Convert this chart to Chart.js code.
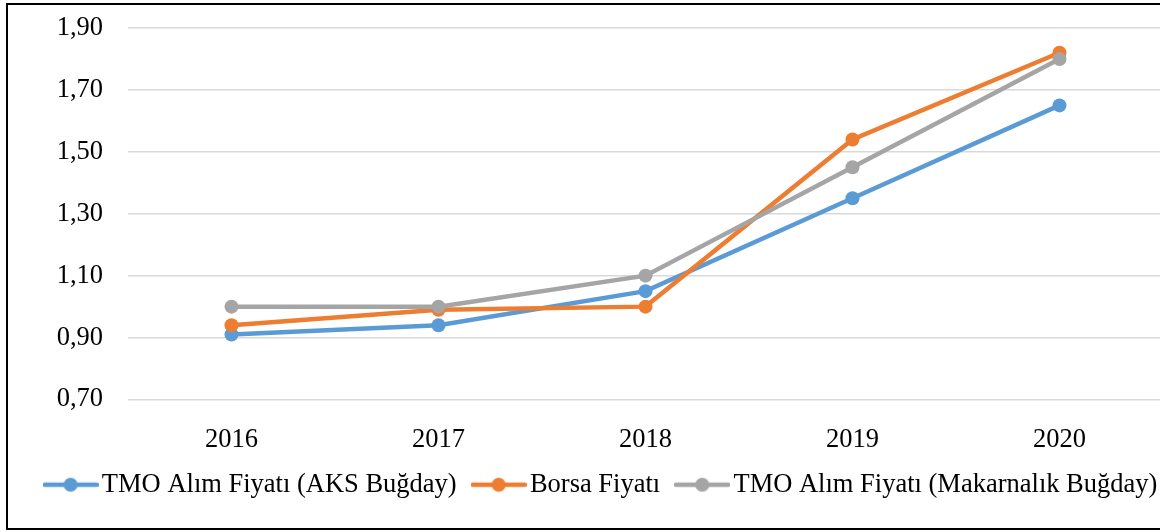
<!DOCTYPE html>
<html>
<head>
<meta charset="utf-8">
<script src="https://cdn.jsdelivr.net/npm/chart.js@4.4.1/dist/chart.umd.min.js"></script>
<style>
  html, body { margin: 0; padding: 0; background: #fff; overflow: hidden; }
  #wrap { position: relative; width: 1210px; height: 532px; }
  #frame {
    position: absolute; left: 6px; top: 3px; width: 1230px; height: 527px;
    border: 2px solid #000; box-sizing: border-box; pointer-events: none;
  }
</style>
</head>
<body>
<div id="wrap">
  <canvas id="myChart" width="1210" height="532"></canvas>
  <div id="frame"></div>
</div>
<script>
const years = ["2016", "2017", "2018", "2019", "2020"];
const aksPrices = [0.91, 0.94, 1.05, 1.35, 1.65];
const borsaPrices = [0.94, 0.99, 1.00, 1.54, 1.82];
const makarnaPrices = [1.00, 1.00, 1.10, 1.45, 1.80];
const seriesNames = [
  "TMO Alım Fiyatı (AKS Buğday)",
  "Borsa Fiyatı",
  "TMO Alım Fiyatı (Makarnalık Buğday)",
];
const yTicks = [0.7, 0.9, 1.1, 1.3, 1.5, 1.7, 1.9];

const colors = ["#5B9BD5", "#ED7D31", "#A5A5A5"];
const FONT = "'Liberation Serif', 'Times New Roman', serif";
const FONT_SIZE = 26.5;

// line + dot marker like the excel legend
function legendMark(color) {
  const c = document.createElement("canvas");
  c.width = 56;
  c.height = 16;
  const ctx = c.getContext("2d");
  ctx.strokeStyle = color;
  ctx.lineWidth = 4.5;
  ctx.lineCap = "round";
  ctx.beginPath();
  ctx.moveTo(2, 8);
  ctx.lineTo(54, 8);
  ctx.stroke();
  ctx.fillStyle = color;
  ctx.beginPath();
  ctx.arc(28, 8, 7, 0, Math.PI * 2);
  ctx.fill();
  return c;
}
const marks = colors.map(legendMark);

function lineSet(label, data, color, order) {
  return {
    label: label,
    data: data,
    borderColor: color,
    backgroundColor: color,
    borderWidth: 4.5,
    pointRadius: 7,
    pointHoverRadius: 7,
    pointBorderWidth: 0,
    pointBackgroundColor: color,
    tension: 0,
    order: order,
  };
}

const chartCanvas = document.getElementById("myChart").getContext("2d");
new Chart(chartCanvas, {
  type: "line",
  data: {
    labels: years,
    datasets: [
      lineSet(seriesNames[0], aksPrices, colors[0], 3),
      lineSet(seriesNames[1], borsaPrices, colors[1], 2),
      lineSet(seriesNames[2], makarnaPrices, colors[2], 1),
    ],
  },
  options: {
    responsive: false,
    animation: false,
    layout: { autoPadding: false, padding: { left: 0, right: 0, top: 28, bottom: 24 } },
    plugins: {
      tooltip: { enabled: false },
      legend: {
        position: "bottom",
        labels: {
          usePointStyle: true,
          pointStyleWidth: 36,
          padding: 24,
          color: "#000",
          font: { family: FONT, size: FONT_SIZE },
          sort: (a, b) => a.datasetIndex - b.datasetIndex,
          generateLabels: (chart) =>
            Chart.defaults.plugins.legend.labels
              .generateLabels(chart)
              .map((item) => ({ ...item, pointStyle: marks[item.datasetIndex] })),
        },
      },
    },
    scales: {
      x: {
        offset: true,
        grid: { display: false, drawTicks: false },
        border: { display: false },
        ticks: { color: "#000", padding: 25, font: { family: FONT, size: FONT_SIZE } },
        afterFit: (s) => { s.height = 48; },
      },
      y: {
        min: yTicks[0],
        max: yTicks[yTicks.length - 1],
        afterBuildTicks: (s) => { s.ticks = yTicks.map((v) => ({ value: v })); },
        grid: { color: "#D9D9D9", lineWidth: 1.5, drawTicks: false },
        border: { display: false },
        ticks: {
          color: "#000",
          padding: 25,
          font: { family: FONT, size: FONT_SIZE },
          callback: (v) => Number(v).toFixed(2).replace(".", ","),
        },
        afterFit: (s) => {
          s.width = 128;
          s.paddingTop = 0;
          s.paddingBottom = 0;
        },
      },
      // empty space on the right, the plot runs past the frame
      side: {
        position: "right",
        grid: { display: false, drawTicks: false },
        border: { display: false },
        ticks: { display: false },
        afterFit: (s) => {
          s.width = 47;
          s.paddingTop = 0;
          s.paddingBottom = 0;
        },
      },
    },
  },
});
</script>
</body>
</html>
